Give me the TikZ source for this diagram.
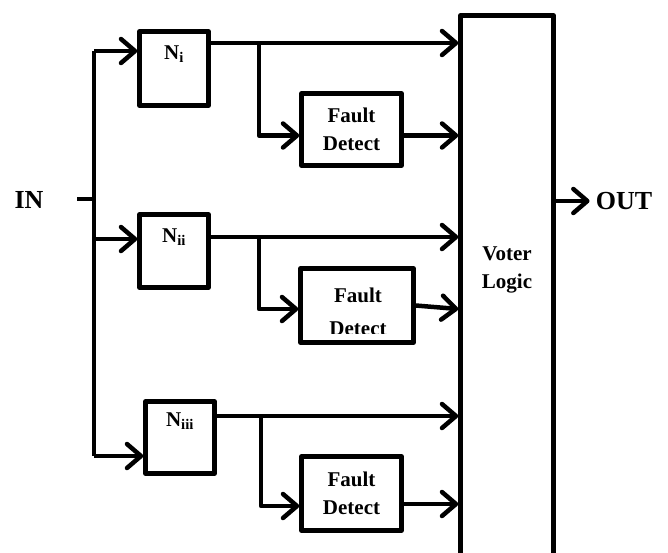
\documentclass[tikz,border=0pt]{standalone}
\usepackage{fontspec}
\setmainfont{Liberation Serif}
\usetikzlibrary{arrows.meta}
\usetikzlibrary{positioning,calc}

\begin{document}
\begin{tikzpicture}[
  x=1pt, y=-1pt,
  line width=4.5pt, line join=round,
  >={Straight Barb[length=14pt,width=24pt,round]},
  every node/.style={font=\bfseries\fontsize{21}{28}\selectfont},
  box/.style={draw,rectangle,inner sep=0pt,align=center},
  big/.style={font=\bfseries\fontsize{26}{28}\selectfont}]
\useasboundingbox (0,0) rectangle (668,552);

% replicated modules
\node[box,minimum width=69pt,minimum height=74pt] (ni) at (174,68.5) {};
\node[box,minimum width=69pt,minimum height=73pt] (nii) at (174,251) {};
\node[box,minimum width=69pt,minimum height=72pt] (niii) at (180,437.5) {};
\node at ([yshift=-25pt]ni.north) {N\textsubscript{i}};
\node at ([yshift=-25pt]nii.north) {N\textsubscript{ii}};
\node at ([yshift=-22pt]niii.north) {N\textsubscript{iii}};

% fault detectors
\node[box,minimum width=100pt,minimum height=72pt] (fd1) at (351.5,129.5) {Fault\\Detect};
\node[box,minimum width=113pt,minimum height=74pt] (fd2) at (357,305.5) {};
\begin{scope}
  \clip (fd2.north west) rectangle ([yshift=11pt]fd2.south east);
  \node[align=center] (fd2txt) at (358,312) {Fault\\[5pt]Detect};
\end{scope}
\node[box,minimum width=100pt,minimum height=74pt] (fd3) at (351.5,493.5) {Fault\\Detect};

% voter
\node[box,minimum width=93pt,minimum height=545pt] (voter) at (507,288) {};
\node[align=center] (vtxt) at (507,270) {Voter\\Logic};

% input side
\node[big] (in) at (29,200) {IN};
\coordinate (inbeg) at (77,199);
\coordinate (bustop) at (94,51);
\coordinate (busbot) at (94,456);
\draw (inbeg) -- (inbeg -| bustop);
\draw (bustop) -- (busbot);
\draw[->] (bustop) -- (bustop -| ni.west);
\draw[->] ([yshift=12pt]nii.west -| bustop) -- ([yshift=12pt]nii.west);
\draw[->] (busbot) -- (busbot -| niii.west);

% module outputs and taps
\coordinate (tap1) at (259,43);
\coordinate (tap2) at (259,237);
\coordinate (tap3) at (261,416);
\draw[->] (ni.east |- tap1) -- (tap1 -| voter.west);
\draw[->] (nii.east |- tap2) -- (tap2 -| voter.west);
\draw[->] (niii.east |- tap3) -- (tap3 -| voter.west);
\draw[->] (tap1) |- ([yshift=-6pt]fd1.west);
\draw[->] (tap2) |- ([yshift=-3.5pt]fd2.west);
\draw[->] (tap3) |- ([yshift=-12.5pt]fd3.west);

% detector outputs
\draw[->] ([yshift=-6pt]fd1.east) -- ([yshift=-6pt]fd1.east -| voter.west);
\draw[->] (fd2.east) -- ([yshift=-3.5pt]fd2.east -| voter.west);
\draw[->] ([yshift=-10.5pt]fd3.east) -- ([yshift=-10.5pt]fd3.east -| voter.west);

% output
\node[big,inner sep=4pt] (out) at (624,201) {OUT};
\draw[->] (voter.east |- out) -- (out.west);
\end{tikzpicture}
\end{document}
